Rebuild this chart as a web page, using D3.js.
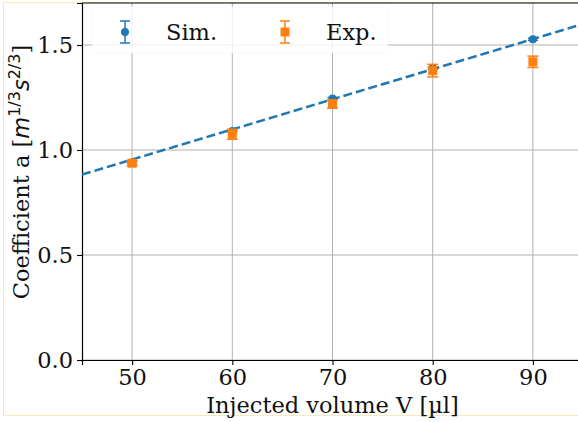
<!DOCTYPE html>
<html>
<head>
<meta charset="utf-8">
<script src="https://cdn.jsdelivr.net/npm/d3@7"></script>
<style>
  html, body { margin: 0; padding: 0; background: #fff; }
  svg { display: block; }
</style>
</head>
<body>
<svg id="chart" width="578" height="422"></svg>
<script>
// injected volumes (µl)
const volumes = [50, 60, 70, 80, 90];
// simulated coefficient a and its error
const simValues = [0.94, 1.09, 1.245, 1.39, 1.527];
const simErrors = [0.005, 0.005, 0.005, 0.005, 0.005];
// experimental coefficient a and its error
const expValues = [0.937, 1.075, 1.219, 1.378, 1.42];
const expErrors = [0.012, 0.024, 0.02, 0.03, 0.027];
// linear fit of the simulation, given by its two end points
const fitVolumes = [45, 95];
const fitValues = [0.883, 1.6];
// ticks
const xTicks = [50, 60, 70, 80, 90];
const yTicks = [0.0, 0.5, 1.0, 1.5];

const blue = "#1f77b4", orange = "#ff7f0e";
const serif = "'DejaVu Serif', serif";
const sans = "'DejaVu Sans', sans-serif";
const fs = "22.5px";

const W = 578, H = 422;
const margin = { top: 3, right: -5, bottom: 62, left: 82 };
const iw = W - margin.left - margin.right;
const ih = H - margin.top - margin.bottom;

const svg = d3.select("#chart");

// faint yellow page frame
svg.append("rect").attr("x", 3.5).attr("y", 2.5).attr("width", 600).attr("height", 413)
    .attr("fill", "none").attr("stroke", "#f6eab8").attr("stroke-width", 1);

const g = svg.append("g").attr("transform", `translate(${margin.left},${margin.top})`);

const x = d3.scaleLinear().domain([45, 95]).range([0, iw]);
const y = d3.scaleLinear().domain([0, 1.7]).range([ih, 0]);

// grid
g.append("g").selectAll("line").data(xTicks).join("line")
    .attr("x1", d => x(d)).attr("x2", d => x(d)).attr("y1", 0).attr("y2", ih)
    .attr("stroke", "#b0b0b0").attr("stroke-width", 1);
g.append("g").selectAll("line").data(yTicks).join("line")
    .attr("x1", 0).attr("x2", iw).attr("y1", d => y(d)).attr("y2", d => y(d))
    .attr("stroke", "#b0b0b0").attr("stroke-width", 1);

// axes
const xAxis = g.append("g").attr("transform", `translate(0,${ih})`)
    .call(d3.axisBottom(x).tickValues(xTicks).tickFormat(d3.format("d")).tickSize(5).tickPadding(4));
const yAxis = g.append("g")
    .call(d3.axisLeft(y).tickValues(yTicks).tickFormat(d3.format(".1f")).tickSize(5).tickPadding(4));
[xAxis, yAxis].forEach(a => {
    a.select(".domain").attr("stroke", "#000").attr("stroke-width", 1.2);
    a.selectAll(".tick line").attr("stroke", "#000").attr("stroke-width", 1.1);
    a.selectAll("text").attr("font-family", serif).attr("font-size", fs).attr("fill", "#111");
});
// top spine
g.append("line").attr("x1", 0).attr("x2", iw).attr("y1", 0).attr("y2", 0)
    .attr("stroke", "#000").attr("stroke-width", 1.2);

// fit line
const fitData = fitVolumes.map((v, i) => [v, fitValues[i]]);
g.append("path").datum(fitData)
    .attr("d", d3.line().x(d => x(d[0])).y(d => y(d[1])))
    .attr("fill", "none").attr("stroke", blue).attr("stroke-width", 2.5)
    .attr("stroke-dasharray", "9,4");

function errorBars(layer, vals, errs, color, cap) {
    const data = volumes.map((v, i) => ({ v, a: vals[i], e: errs[i] }));
    layer.selectAll("line.bar").data(data).join("line").attr("class", "bar")
        .attr("x1", d => x(d.v)).attr("x2", d => x(d.v))
        .attr("y1", d => y(d.a - d.e)).attr("y2", d => y(d.a + d.e))
        .attr("stroke", color).attr("stroke-width", 1.5);
    ["lo", "hi"].forEach(k => {
        layer.selectAll("line.cap" + k).data(data).join("line").attr("class", "cap" + k)
            .attr("x1", d => x(d.v) - cap).attr("x2", d => x(d.v) + cap)
            .attr("y1", d => y(k === "lo" ? d.a - d.e : d.a + d.e))
            .attr("y2", d => y(k === "lo" ? d.a - d.e : d.a + d.e))
            .attr("stroke", color).attr("stroke-width", 1.5);
    });
    return data;
}

// simulation
const simLayer = g.append("g");
const simData = errorBars(simLayer, simValues, simErrors, blue, 5);
simLayer.selectAll("circle").data(simData).join("circle")
    .attr("cx", d => x(d.v)).attr("cy", d => y(d.a)).attr("r", 4).attr("fill", blue);

// experiment
const expLayer = g.append("g");
const expData = errorBars(expLayer, expValues, expErrors, orange, 5.5);
expLayer.selectAll("rect").data(expData).join("rect")
    .attr("x", d => x(d.v) - 4.5).attr("y", d => y(d.a) - 4.5)
    .attr("width", 9).attr("height", 9).attr("fill", orange);

// legend (semi-transparent box, frame barely visible)
const lg = svg.append("g");
lg.append("rect").attr("x", 92).attr("y", 7).attr("width", 296).attr("height", 46).attr("rx", 3)
    .attr("fill", "#fff").attr("fill-opacity", 0.8)
    .attr("stroke", "#f4f4f4").attr("stroke-opacity", 0.6);
const legendItems = [
    { label: "Sim.", color: blue, mx: 125, tx: 166, shape: "circle" },
    { label: "Exp.", color: orange, mx: 285, tx: 326, shape: "square" }
];
legendItems.forEach(it => {
    const cy = 32;
    lg.append("line").attr("x1", it.mx).attr("x2", it.mx).attr("y1", cy - 11).attr("y2", cy + 11)
        .attr("stroke", it.color).attr("stroke-width", 1.5);
    [cy - 11, cy + 11].forEach(yy => lg.append("line")
        .attr("x1", it.mx - 5).attr("x2", it.mx + 5).attr("y1", yy).attr("y2", yy)
        .attr("stroke", it.color).attr("stroke-width", 1.5));
    if (it.shape === "circle") {
        lg.append("circle").attr("cx", it.mx).attr("cy", cy).attr("r", 4).attr("fill", it.color);
    } else {
        lg.append("rect").attr("x", it.mx - 4.5).attr("y", cy - 4.5).attr("width", 9).attr("height", 9)
            .attr("fill", it.color);
    }
    lg.append("text").attr("x", it.tx).attr("y", cy + 8)
        .attr("font-family", serif).attr("font-size", fs).attr("fill", "#111").text(it.label);
});

// axis labels
svg.append("text").attr("x", margin.left + x(70)).attr("y", 413)
    .attr("text-anchor", "middle").attr("font-family", serif).attr("font-size", fs)
    .attr("fill", "#111").text("Injected volume V [µl]");

const yl = svg.append("text").attr("transform", "translate(29,172) rotate(-90)")
    .attr("text-anchor", "middle").attr("font-family", serif).attr("font-size", fs)
    .attr("fill", "#111");
yl.append("tspan").text("Coefficient a [");
yl.append("tspan").attr("font-family", sans).attr("font-style", "italic").text("m");
yl.append("tspan").attr("font-family", sans).attr("font-size", "16px").attr("dy", -9).text("1/3");
yl.append("tspan").attr("font-family", sans).attr("font-style", "italic").attr("dy", 9).text("s");
yl.append("tspan").attr("font-family", sans).attr("font-size", "16px").attr("dy", -9).text("2/3");
yl.append("tspan").attr("dy", 9).text("]");
</script>
</body>
</html>
